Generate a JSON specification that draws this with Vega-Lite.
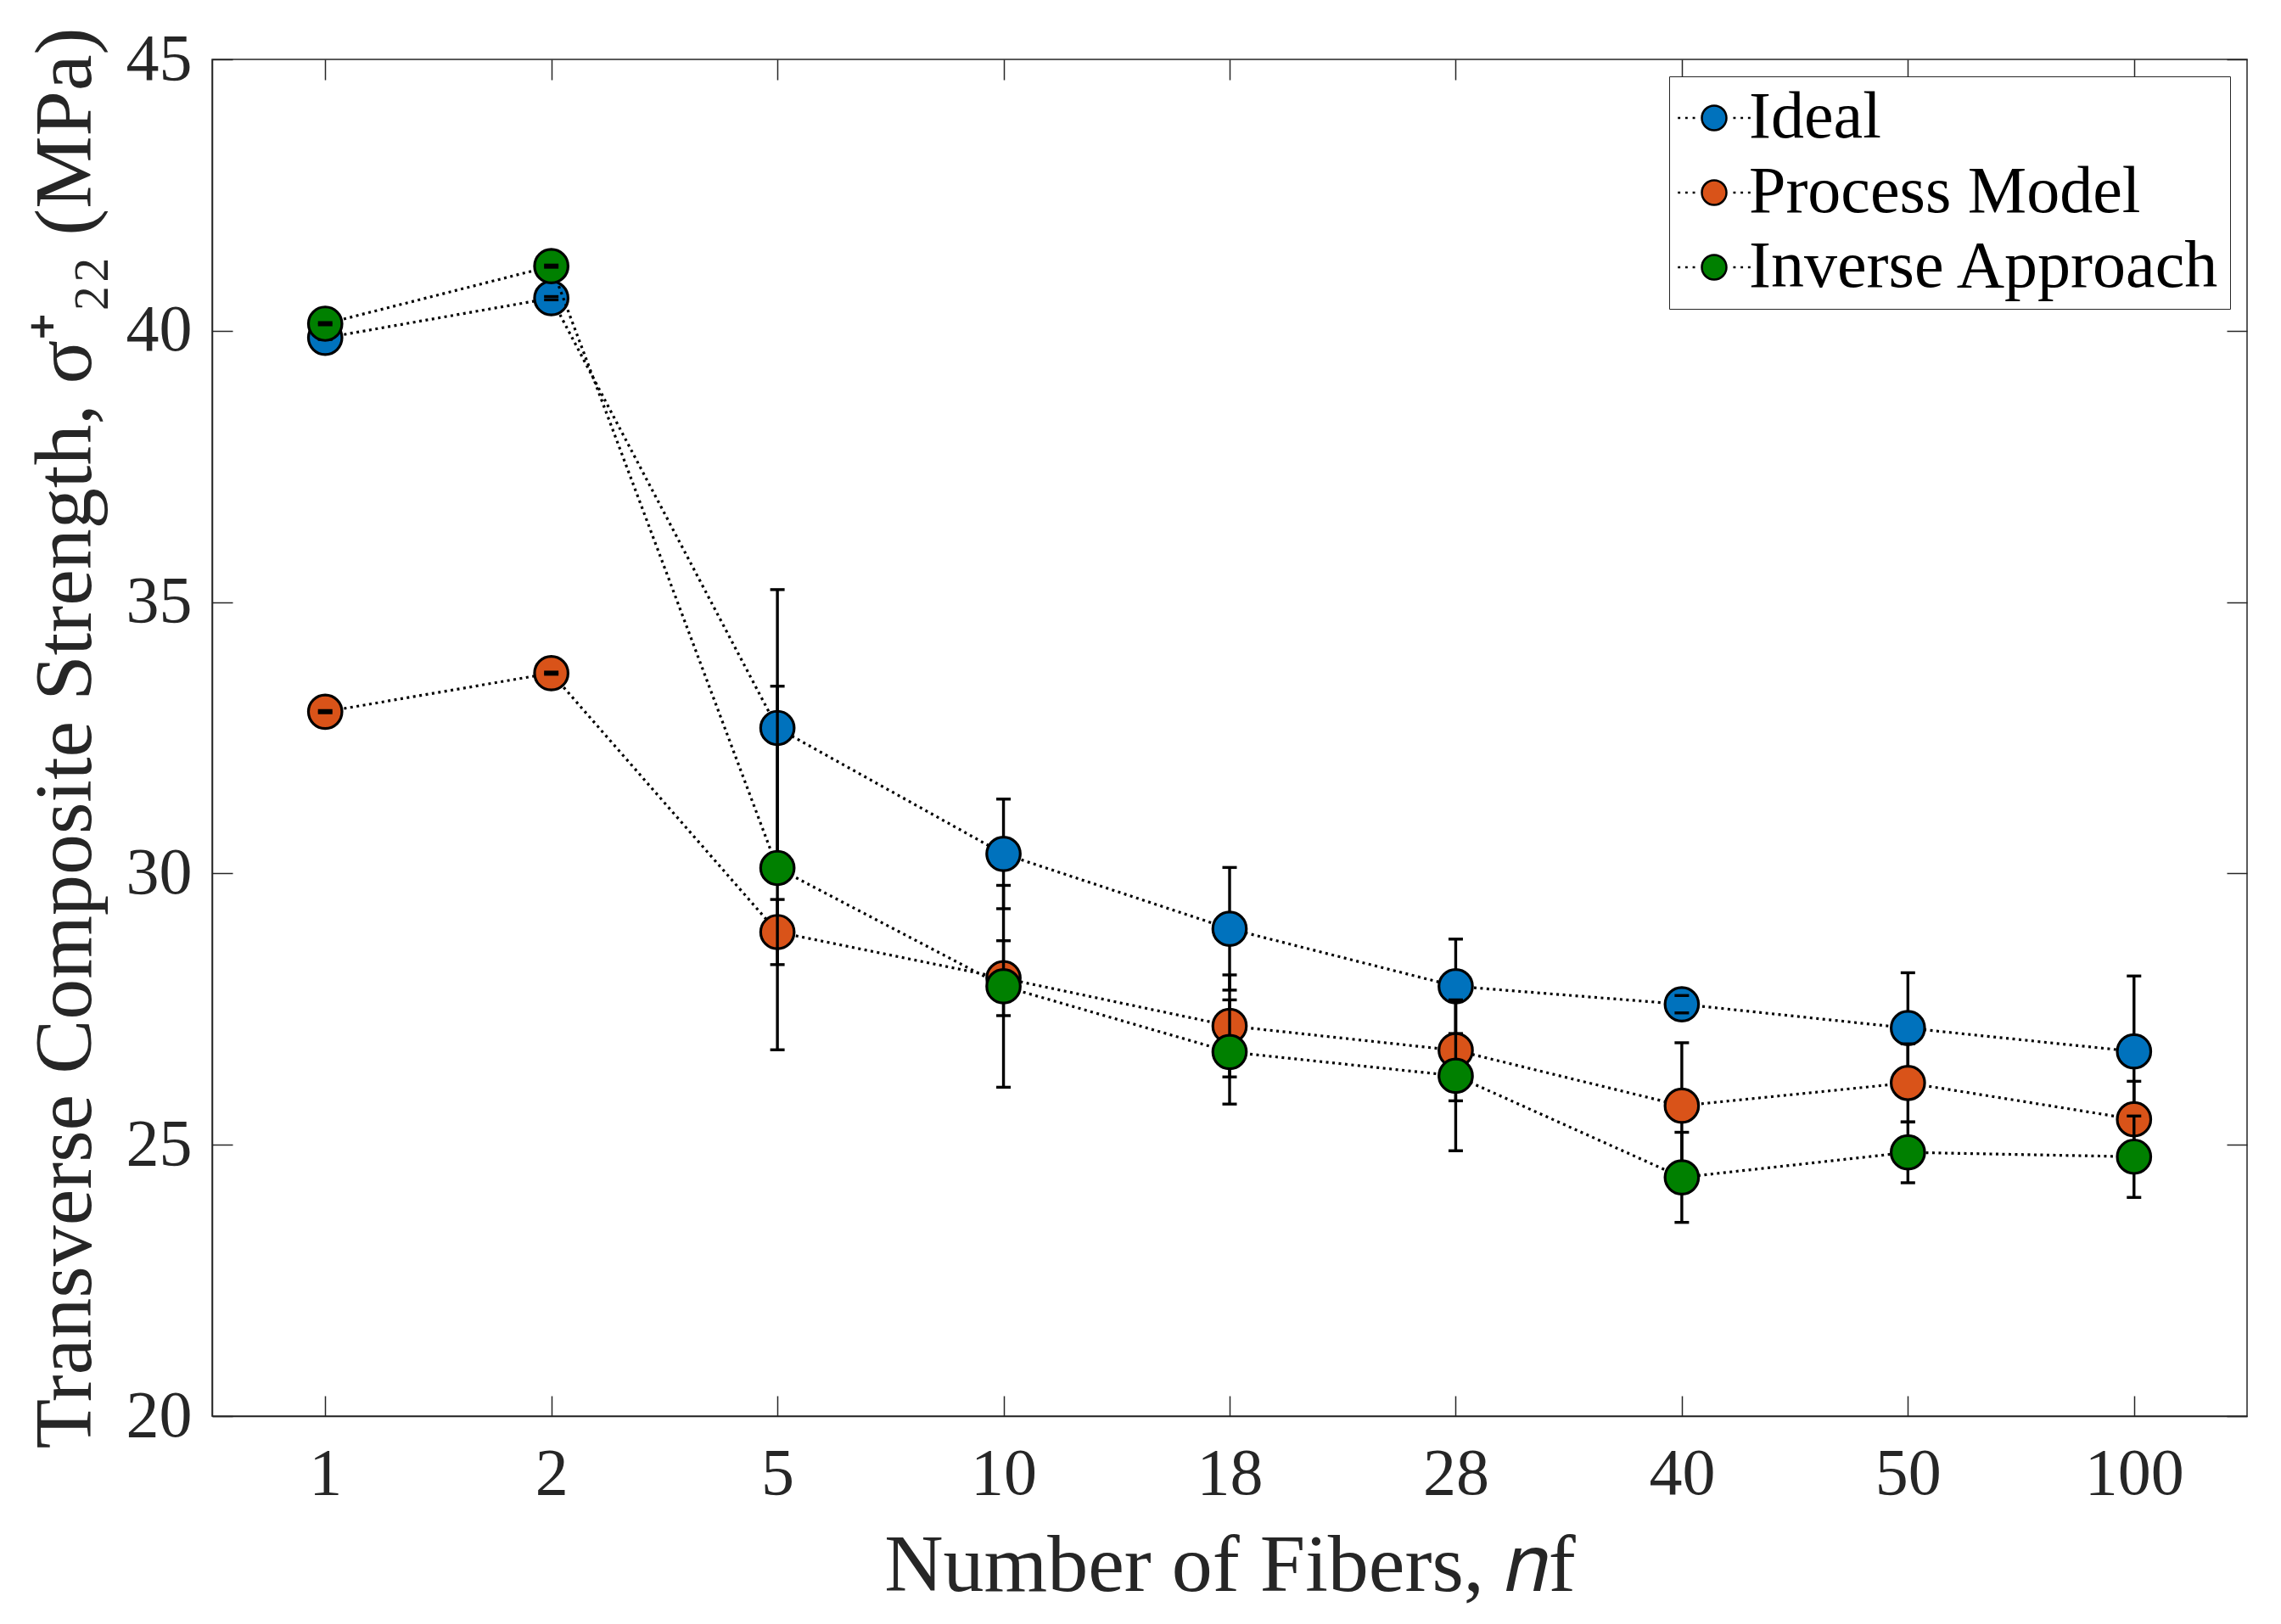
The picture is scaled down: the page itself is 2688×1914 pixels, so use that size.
{
  "$schema": "https://vega.github.io/schema/vega-lite/v6.json",
  "width": 2398,
  "height": 1599,
  "autosize": {"type": "none"},
  "padding": {"left": 250, "top": 70, "right": 40, "bottom": 245},
  "background": "white",
  "config": {
    "font": "Liberation Serif",
    "view": {"stroke": "#262626", "strokeWidth": 1.5},
    "axis": {
      "grid": false,
      "labelFont": "Liberation Serif",
      "labelFontSize": 78,
      "labelColor": "#262626",
      "tickColor": "#262626",
      "tickWidth": 1.5,
      "tickSize": -24,
      "domainColor": "#262626",
      "domainWidth": 1.5,
      "titleFont": "Liberation Serif",
      "titleFontSize": 96,
      "titleFontWeight": "normal",
      "titleColor": "#262626"
    },
    "legend": {
      "labelFont": "Liberation Serif",
      "labelFontSize": 78,
      "labelColor": "black",
      "labelLimit": 0
    }
  },
  "data": {
    "values": [
      {"series": "Ideal", "n": "1", "value": 39.87, "lo": 39.84, "hi": 39.90},
      {"series": "Ideal", "n": "2", "value": 40.60, "lo": 40.57, "hi": 40.63},
      {"series": "Ideal", "n": "5", "value": 32.68, "lo": 30.13, "hi": 35.23},
      {"series": "Ideal", "n": "10", "value": 30.36, "lo": 29.35, "hi": 31.37},
      {"series": "Ideal", "n": "18", "value": 28.98, "lo": 27.85, "hi": 30.11},
      {"series": "Ideal", "n": "28", "value": 27.92, "lo": 27.05, "hi": 28.79},
      {"series": "Ideal", "n": "40", "value": 27.59, "lo": 27.43, "hi": 27.75},
      {"series": "Ideal", "n": "50", "value": 27.15, "lo": 26.13, "hi": 28.17},
      {"series": "Ideal", "n": "100", "value": 26.72, "lo": 25.33, "hi": 28.11},
      {"series": "Process Model", "n": "1", "value": 32.98, "lo": 32.96, "hi": 33.00},
      {"series": "Process Model", "n": "2", "value": 33.69, "lo": 33.67, "hi": 33.71},
      {"series": "Process Model", "n": "5", "value": 28.92, "lo": 28.32, "hi": 29.52},
      {"series": "Process Model", "n": "10", "value": 28.07, "lo": 27.38, "hi": 28.76},
      {"series": "Process Model", "n": "18", "value": 27.19, "lo": 26.25, "hi": 28.13},
      {"series": "Process Model", "n": "28", "value": 26.74, "lo": 25.81, "hi": 27.67},
      {"series": "Process Model", "n": "40", "value": 25.72, "lo": 24.56, "hi": 26.88},
      {"series": "Process Model", "n": "50", "value": 26.14, "lo": 25.42, "hi": 26.86},
      {"series": "Process Model", "n": "100", "value": 25.47, "lo": 24.77, "hi": 26.17},
      {"series": "Inverse Approach", "n": "1", "value": 40.13, "lo": 40.11, "hi": 40.15},
      {"series": "Inverse Approach", "n": "2", "value": 41.19, "lo": 41.17, "hi": 41.21},
      {"series": "Inverse Approach", "n": "5", "value": 30.10, "lo": 26.75, "hi": 33.45},
      {"series": "Inverse Approach", "n": "10", "value": 27.92, "lo": 26.06, "hi": 29.78},
      {"series": "Inverse Approach", "n": "18", "value": 26.71, "lo": 25.75, "hi": 27.67},
      {"series": "Inverse Approach", "n": "28", "value": 26.27, "lo": 24.89, "hi": 27.65},
      {"series": "Inverse Approach", "n": "40", "value": 24.40, "lo": 23.57, "hi": 25.23},
      {"series": "Inverse Approach", "n": "50", "value": 24.86, "lo": 24.30, "hi": 25.42},
      {"series": "Inverse Approach", "n": "100", "value": 24.78, "lo": 24.03, "hi": 25.53}
    ]
  },
  "resolve": {"axis": {"x": "independent", "y": "independent"}},
  "layer": [
    {
      "encoding": {
        "x": {
          "field": "n", "type": "ordinal",
          "sort": ["1", "2", "5", "10", "18", "28", "40", "50", "100"],
          "scale": {"type": "point", "padding": 0.5},
          "axis": {"orient": "bottom", "labelAngle": 0, "labelPadding": 53, "title": "Number of Fibers, 𝑛f", "titlePadding": 22}
        }
      },
      "layer": [
        {
          "transform": [{"filter": "datum.series === 'Ideal'"}],
          "layer": [
            {"mark": {"type": "line", "color": "black", "strokeWidth": 3.2, "strokeDash": [3, 4.5]},
             "encoding": {"y": {"field": "value", "type": "quantitative", "scale": {"domain": [20, 45]}, "title": "Transverse Composite Strength, σ⁺₂₂ (MPa)", "axis": {"orient": "left", "values": [20, 25, 30, 35, 40, 45], "format": "d", "labelPadding": 48, "titlePadding": 22}}, "order": {"value": null}}},
            {"mark": {"type": "rule", "color": "black", "strokeWidth": 3.4},
             "encoding": {"y": {"field": "lo", "type": "quantitative", "scale": {"domain": [20, 45]}, "title": "Transverse Composite Strength, σ⁺₂₂ (MPa)"}, "y2": {"field": "hi"}}},
            {"mark": {"type": "point", "shape": "circle", "filled": true, "size": 1560, "stroke": "black", "strokeWidth": 3.2, "opacity": 1},
             "encoding": {"y": {"field": "value", "type": "quantitative", "scale": {"domain": [20, 45]}, "title": "Transverse Composite Strength, σ⁺₂₂ (MPa)"},
               "fill": {"field": "series", "type": "nominal", "scale": {"domain": ["Ideal", "Process Model", "Inverse Approach"], "range": ["#0072BD", "#D95319", "#008000"]},
                 "legend": {"title": null, "orient": "top-right", "offset": 20, "strokeColor": "#262626", "fillColor": "white", "padding": 10, "rowPadding": 10, "symbolType": "M1,0A1,1,0,1,1,-1,0A1,1,0,1,1,1,0Z M-2.95,0h0.2M-2.35,0h0.2M-1.75,0h0.2M1.55,0h0.2M2.15,0h0.2M2.75,0h0.2", "symbolSize": 841, "symbolStrokeColor": "black", "symbolStrokeWidth": 2.5, "symbolOffset": 4, "labelOffset": 2, "labelLimit": 0}}}},
            {"mark": {"type": "tick", "color": "black", "size": 17, "thickness": 3.4, "orient": "horizontal", "opacity": 1},
             "encoding": {"y": {"field": "lo", "type": "quantitative", "scale": {"domain": [20, 45]}, "title": "Transverse Composite Strength, σ⁺₂₂ (MPa)"}}},
            {"mark": {"type": "tick", "color": "black", "size": 17, "thickness": 3.4, "orient": "horizontal", "opacity": 1},
             "encoding": {"y": {"field": "hi", "type": "quantitative", "scale": {"domain": [20, 45]}, "title": "Transverse Composite Strength, σ⁺₂₂ (MPa)"}}}
          ]
        },
        {
          "transform": [{"filter": "datum.series === 'Process Model'"}],
          "layer": [
            {"mark": {"type": "line", "color": "black", "strokeWidth": 3.2, "strokeDash": [3, 4.5]},
             "encoding": {"y": {"field": "value", "type": "quantitative", "scale": {"domain": [20, 45]}, "title": "Transverse Composite Strength, σ⁺₂₂ (MPa)"}, "order": {"value": null}}},
            {"mark": {"type": "rule", "color": "black", "strokeWidth": 3.4},
             "encoding": {"y": {"field": "lo", "type": "quantitative", "scale": {"domain": [20, 45]}, "title": "Transverse Composite Strength, σ⁺₂₂ (MPa)"}, "y2": {"field": "hi"}}},
            {"mark": {"type": "point", "shape": "circle", "filled": true, "size": 1560, "stroke": "black", "strokeWidth": 3.2, "opacity": 1},
             "encoding": {"y": {"field": "value", "type": "quantitative", "scale": {"domain": [20, 45]}, "title": "Transverse Composite Strength, σ⁺₂₂ (MPa)"},
               "fill": {"field": "series", "type": "nominal"}}},
            {"mark": {"type": "tick", "color": "black", "size": 17, "thickness": 3.4, "orient": "horizontal", "opacity": 1},
             "encoding": {"y": {"field": "lo", "type": "quantitative", "scale": {"domain": [20, 45]}, "title": "Transverse Composite Strength, σ⁺₂₂ (MPa)"}}},
            {"mark": {"type": "tick", "color": "black", "size": 17, "thickness": 3.4, "orient": "horizontal", "opacity": 1},
             "encoding": {"y": {"field": "hi", "type": "quantitative", "scale": {"domain": [20, 45]}, "title": "Transverse Composite Strength, σ⁺₂₂ (MPa)"}}}
          ]
        },
        {
          "transform": [{"filter": "datum.series === 'Inverse Approach'"}],
          "layer": [
            {"mark": {"type": "line", "color": "black", "strokeWidth": 3.2, "strokeDash": [3, 4.5]},
             "encoding": {"y": {"field": "value", "type": "quantitative", "scale": {"domain": [20, 45]}, "title": "Transverse Composite Strength, σ⁺₂₂ (MPa)"}, "order": {"value": null}}},
            {"mark": {"type": "rule", "color": "black", "strokeWidth": 3.4},
             "encoding": {"y": {"field": "lo", "type": "quantitative", "scale": {"domain": [20, 45]}, "title": "Transverse Composite Strength, σ⁺₂₂ (MPa)"}, "y2": {"field": "hi"}}},
            {"mark": {"type": "point", "shape": "circle", "filled": true, "size": 1560, "stroke": "black", "strokeWidth": 3.2, "opacity": 1},
             "encoding": {"y": {"field": "value", "type": "quantitative", "scale": {"domain": [20, 45]}, "title": "Transverse Composite Strength, σ⁺₂₂ (MPa)"},
               "fill": {"field": "series", "type": "nominal"}}},
            {"mark": {"type": "tick", "color": "black", "size": 17, "thickness": 3.4, "orient": "horizontal", "opacity": 1},
             "encoding": {"y": {"field": "lo", "type": "quantitative", "scale": {"domain": [20, 45]}, "title": "Transverse Composite Strength, σ⁺₂₂ (MPa)"}}},
            {"mark": {"type": "tick", "color": "black", "size": 17, "thickness": 3.4, "orient": "horizontal", "opacity": 1},
             "encoding": {"y": {"field": "hi", "type": "quantitative", "scale": {"domain": [20, 45]}, "title": "Transverse Composite Strength, σ⁺₂₂ (MPa)"}}}
          ]
        }
      ]
    },
    {
      "mark": {"type": "point", "opacity": 0},
      "encoding": {
        "x": {"field": "n", "type": "ordinal", "sort": ["1", "2", "5", "10", "18", "28", "40", "50", "100"], "scale": {"type": "point", "padding": 0.5},
          "axis": {"orient": "top", "labels": false, "domain": false, "title": null}},
        "y": {"field": "value", "type": "quantitative", "scale": {"domain": [20, 45]},
          "axis": {"orient": "right", "labels": false, "domain": false, "title": null, "values": [20, 25, 30, 35, 40, 45]}}
      }
    }
  ]
}
